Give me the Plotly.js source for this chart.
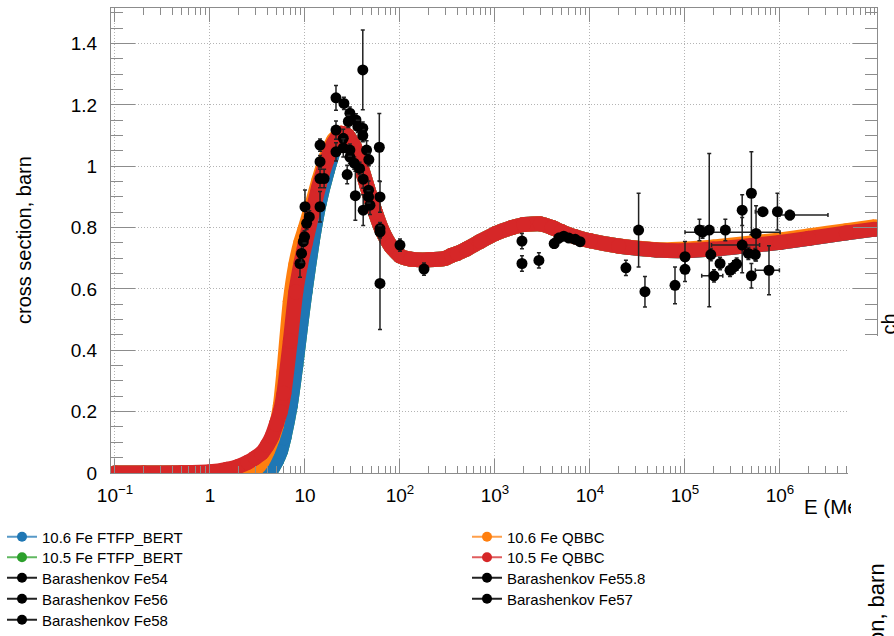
<!DOCTYPE html>
<html><head><meta charset="utf-8">
<script src="https://cdn.plot.ly/plotly-3.0.1.min.js"></script>
<style>html,body{margin:0;padding:0;background:#fff}#chart{width:894px;height:636px}</style>
</head><body><div id="chart"></div>
<script>
// ---------- model curves (E in MeV, cross section in barn) ----------
const E_model = [0.1, 0.2, 0.5, 1, 1.5, 2, 2.5, 3, 3.5, 4, 4.5, 5, 5.5, 6, 7, 8, 9, 10, 12, 14, 17, 20, 24, 28, 33, 38, 45, 55, 65, 80, 100, 130, 200, 300, 350, 400, 500, 700, 1000, 1500, 2000, 3000, 4000, 5000, 7000, 1e4, 2e4, 5e4, 1e5, 2e5, 5e5, 1e6, 2e6, 5e6, 1e7];
const sig_QBBC_105 = [0, 0, 0.001, 0.004, 0.012, 0.022, 0.035, 0.05, 0.065, 0.09, 0.12, 0.16, 0.2, 0.26, 0.43, 0.59, 0.68, 0.745, 0.85, 0.935, 1.02, 1.075, 1.108, 1.10, 1.065, 1.01, 0.935, 0.85, 0.79, 0.74, 0.708, 0.697, 0.695, 0.70, 0.71, 0.716, 0.73, 0.755, 0.78, 0.80, 0.81, 0.812, 0.80, 0.787, 0.77, 0.757, 0.74, 0.727, 0.725, 0.73, 0.742, 0.752, 0.765, 0.783, 0.795];
const sig_QBBC_106 = [0, 0, 0, 0.001, 0.002, 0.003, 0.004, 0.012, 0.035, 0.07, 0.11, 0.155, 0.22, 0.33, 0.56, 0.68, 0.75, 0.795, 0.88, 0.955, 1.035, 1.085, 1.108, 1.10, 1.065, 1.01, 0.935, 0.85, 0.79, 0.74, 0.708, 0.697, 0.695, 0.70, 0.71, 0.716, 0.73, 0.755, 0.78, 0.80, 0.81, 0.812, 0.80, 0.787, 0.77, 0.757, 0.74, 0.728, 0.73, 0.737, 0.75, 0.76, 0.773, 0.79, 0.803];
const sig_FTFP_106 = [0, 0, 0, 0, 0, 0, 0, 0, 0.001, 0.005, 0.015, 0.04, 0.07, 0.115, 0.22, 0.35, 0.48, 0.59, 0.76, 0.875, 0.98, 1.05, 1.095, 1.10, 1.065, 1.01, 0.935, 0.85, 0.79, 0.74, 0.708, 0.697, 0.695, 0.70, 0.71, 0.716, 0.73, 0.755, 0.78, 0.80, 0.81, 0.812, 0.80, 0.787, 0.77, 0.757, 0.74, 0.727, 0.725, 0.73, 0.742, 0.752, 0.765, 0.783, 0.795];
const sig_FTFP_105 = [0, 0, 0, 0, 0, 0, 0, 0, 0.001, 0.005, 0.015, 0.04, 0.07, 0.115, 0.22, 0.35, 0.48, 0.59, 0.76, 0.875, 0.98, 1.05, 1.095, 1.10, 1.065, 1.01, 0.935, 0.85, 0.79, 0.74, 0.708, 0.697, 0.695, 0.70, 0.71, 0.716, 0.73, 0.755, 0.78, 0.80, 0.81, 0.812, 0.80, 0.787, 0.77, 0.757, 0.74, 0.727, 0.725, 0.73, 0.742, 0.752, 0.765, 0.783, 0.795];

// ---------- Barashenkov data ----------
const E_Fe54   = [8.86, 10.0, 14.4, 21.2, 40.6, 60.6, 61.6];
const sig_Fe54 = [0.683, 0.868, 0.868, 1.223, 1.314, 1.062, 0.618];
const err_Fe54 = [0.045, 0.055, 0.05, 0.04, 0.13, 0.11, 0.15];

const E_Fe56   = [9.2, 9.6, 10.4, 11.1, 14.4, 15.9, 21.2, 25.7, 29.7, 34.4, 40.6, 44.5, 48.3, 61.6, 100, 179];
const sig_Fe56 = [0.716, 0.754, 0.814, 0.835, 0.96, 0.96, 1.118, 1.205, 1.173, 1.151, 1.124, 1.053, 0.873, 0.797, 0.743, 0.665];
const err_Fe56 = [0.03, 0.03, 0.02, 0.02, 0.03, 0.03, 0.03, 0.02, 0.02, 0.02, 0.02, 0.03, 0.03, 0.02, 0.02, 0.02];

const E_Fe57   = [14.4, 25.3, 28.6, 33.9, 41.0, 46.7, 61.6];
const sig_Fe57 = [1.015, 1.091, 1.146, 0.904, 0.958, 0.922, 0.90];
const err_Fe57 = [0.02, 0.03, 0.02, 0.08, 0.03, 0.03, 0.05];

const E_Fe58   = [14.4, 21.2, 25.3, 27.8, 29.7, 33.0, 37.5, 41.0, 47.0, 46.7, 61.6];
const sig_Fe58 = [1.069, 1.047, 1.06, 0.973, 1.03, 1.01, 0.993, 0.857, 1.022, 0.90, 0.786];
const err_Fe58 = [0.02, 0.03, 0.03, 0.03, 0.02, 0.02, 0.02, 0.05, 0.02, 0.02, 0.02];

const E_Fe558   = [9.9, 29.7, 36, 40.6, 1923, 1923, 2900, 4200, 4700, 5300, 6000, 7000, 7850, 23900, 32500, 37900, 78500, 1.0e5, 1.0e5, 1.42e5, 1.53e5, 1.8e5, 1.87e5, 2.02e5, 2.34e5, 2.66e5, 2.98e5, 3.28e5, 3.5e5, 4.0e5, 4.0e5, 4.65e5, 5.0e5, 5.0e5, 5.5e5, 5.6e5, 6.6e5, 7.66e5, 9.4e5, 1.27e6];
const sig_Fe558 = [0.77, 1.053, 1.13, 1.10, 0.756, 0.683, 0.693, 0.748, 0.766, 0.772, 0.766, 0.762, 0.754, 0.669, 0.792, 0.591, 0.612, 0.705, 0.664, 0.792, 0.785, 0.792, 0.712, 0.643, 0.683, 0.792, 0.661, 0.672, 0.681, 0.857, 0.743, 0.716, 0.912, 0.643, 0.712, 0.781, 0.852, 0.661, 0.852, 0.841];
const err_Fe558 = [0.02, 0.02, 0.02, 0.02, 0.025, 0.025, 0.025, 0.015, 0.015, 0.01, 0.01, 0.01, 0.01, 0.025, 0.12, 0.05, 0.06, 0.05, 0.04, 0.035, 0.02, 0.25, 0.02, 0.02, 0.02, 0.035, 0.02, 0.02, 0.02, 0.05, 0.09, 0.02, 0.135, 0.04, 0.02, 0.09, 0.01, 0.08, 0.06, 0.015];
const xErrPlus_Fe558  = [0, 0, 0, 0, 0, 0, 0, 0, 0, 0, 0, 0, 0, 0, 0, 0, 0, 0, 0, 0, 8.5e5, 0, 0, 0.48e5, 0, 0, 0, 0, 0, 0, 2.1e5, 0, 0, 0, 0, 0, 0.8e5, 2.2e5, 0, 1.93e6];
const xErrMinus_Fe558 = [0, 0, 0, 0, 0, 0, 0, 0, 0, 0, 0, 0, 0, 0, 0, 0, 0, 0, 0, 0, 0.53e5, 0, 0, 0.52e5, 0, 0, 0, 0, 0, 0, 2.1e5, 0, 0, 0, 0, 0, 1.1e5, 2.16e5, 0, 0.27e6];

// ---------- axis ticks ----------
const xTickVals = [0.1, 1, 10, 100, 1e3, 1e4, 1e5, 1e6];
const xTickText = ['10<sup>\u22121</sup>', '1', '10', '10<sup>2</sup>', '10<sup>3</sup>', '10<sup>4</sup>', '10<sup>5</sup>', '10<sup>6</sup>'];

// ---------- legend ----------
const legendNames  = ['10.6 Fe FTFP_BERT', '10.5 Fe FTFP_BERT', 'Barashenkov Fe54', 'Barashenkov Fe56', 'Barashenkov Fe58', '10.6 Fe QBBC', '10.5 Fe QBBC', 'Barashenkov Fe55.8', 'Barashenkov Fe57'];
const legendColors = ['#1f77b4', '#2ca02c', '#000000', '#000000', '#000000', '#ff7f0e', '#d62728', '#000000', '#000000'];
const legendLines  = ['rgba(31,119,180,0.75)', 'rgba(44,160,44,0.75)', '#222', '#222', '#222', 'rgba(255,127,14,0.75)', 'rgba(214,39,40,0.75)', '#222', '#222'];

// ---------- geometry helpers ----------
const W = 894, H = 636, L = 111, R = 877, T = 8, B = 473;
const px2x = p => (p - L) / (R - L);
const py2y = q => (B - q) / (B - T);
const FONT = '"Liberation Sans", Arial, Helvetica, sans-serif';

const traces = [];
function band(y, color) {
  return {x: E_model, y: y, type: 'scatter', mode: 'lines+markers', showlegend: false, hoverinfo: 'skip',
    line: {color: color, width: 15, shape: 'spline', smoothing: 0.5},
    marker: {color: color, size: 15}};
}
traces.push(band(sig_FTFP_105, '#2ca02c'));
traces.push(band(sig_FTFP_106, '#1f77b4'));
traces.push(band(sig_QBBC_106, '#ff7f0e'));
traces.push(band(sig_QBBC_105, '#d62728'));

function dataTrace(E, s, e, xp, xm) {
  const t = {x: E, y: s, type: 'scatter', mode: 'markers', showlegend: false,
    marker: {color: '#000', size: 11},
    error_y: {type: 'data', array: e, visible: true, color: '#222', thickness: 1.5, width: 2}};
  if (xp) t.error_x = {type: 'data', array: xp, arrayminus: xm, visible: true, color: '#222', thickness: 1.5, width: 2};
  return t;
}
traces.push(dataTrace(E_Fe54, sig_Fe54, err_Fe54));
traces.push(dataTrace(E_Fe56, sig_Fe56, err_Fe56));
traces.push(dataTrace(E_Fe57, sig_Fe57, err_Fe57));
traces.push(dataTrace(E_Fe58, sig_Fe58, err_Fe58));
traces.push(dataTrace(E_Fe558, sig_Fe558, err_Fe558, xErrPlus_Fe558, xErrMinus_Fe558));

// legend entries: two columns, each row its own legend box
const legendCol = [2, 2, 2, 2, 2, 467, 467, 467, 467];
const legendRow = [537, 557.5, 578, 599, 620, 537, 557.5, 578, 599];
const layoutLegends = {};
legendNames.forEach((n, i) => {
  const key = i === 0 ? 'legend' : 'legend' + (i + 1);
  traces.push({x: [null], y: [null], type: 'scatter', mode: 'lines+markers', name: n, legend: key,
    line: {color: legendLines[i], width: 2}, marker: {color: legendColors[i], size: 10}});
  layoutLegends[key] = {xref: 'container', yref: 'container', x: legendCol[i] / W, y: 1 - legendRow[i] / H,
    xanchor: 'left', yanchor: 'middle', bgcolor: 'rgba(0,0,0,0)', borderwidth: 0,
    font: {family: FONT, size: 15, color: '#000'}};
});

const axCol = '#8c8c8c';
const gridStyle = {showgrid: true, gridcolor: '#b4b4b4', griddash: '1px,2px', gridwidth: 1};
const layout = Object.assign({
  width: W, height: H,
  margin: {l: L, r: W - R, t: T, b: H - B, autoexpand: false},
  paper_bgcolor: '#fff', plot_bgcolor: '#fff',
  font: {family: FONT, color: '#000'},
  showlegend: true,
  xaxis: Object.assign({type: 'log', range: [Math.log10(0.0908), Math.log10(1.05e7)], tickmode: 'array', tickvals: xTickVals, ticktext: xTickText,
    ticks: 'inside', ticklen: 14, tickcolor: axCol, tickwidth: 1, showline: true, linecolor: axCol, linewidth: 1, mirror: 'allticks',
    zeroline: false, automargin: false,
    tickfont: {family: FONT, size: 19, color: '#000'}, ticklabelstandoff: 5,
    minor: {ticks: 'inside', ticklen: 7, dtick: 'D1', tickcolor: axCol, showgrid: false}}, gridStyle),
  yaxis: Object.assign({range: [0, 1.516], dtick: 0.2, tick0: 0, automargin: false,
    ticks: 'inside', ticklen: 24, tickcolor: axCol, tickwidth: 1, showline: true, linecolor: axCol, linewidth: 1, mirror: 'allticks',
    zeroline: false,
    tickfont: {family: FONT, size: 19, color: '#000'}, ticklabelstandoff: 9,
    minor: {ticks: 'inside', ticklen: 12, dtick: 0.05, tickcolor: axCol, showgrid: false}}, gridStyle),
  shapes: [{type: 'rect', xref: 'paper', yref: 'paper', x0: px2x(848), x1: px2x(900), y0: py2y(640), y1: py2y(336),
    fillcolor: '#fff', line: {width: 0}, layer: 'above'}],
  annotations: [
    {xref: 'paper', yref: 'paper', x: px2x(24), y: py2y(240), xanchor: 'center', yanchor: 'middle', showarrow: false,
      text: 'cross section, barn', textangle: -90, font: {family: FONT, size: 20, color: '#000'}},
    {xref: 'paper', yref: 'paper', x: px2x(802), y: py2y(506), xanchor: 'left', yanchor: 'middle', showarrow: false,
      text: 'E (MeV)', width: 47, align: 'left', font: {family: FONT, size: 20.5, color: '#000'}},
    {xref: 'paper', yref: 'paper', x: px2x(876), y: py2y(656), xanchor: 'center', yanchor: 'middle', showarrow: false,
      text: 'cross section, barn', textangle: -90, font: {family: FONT, size: 22, color: '#000'}},
    {xref: 'paper', yref: 'paper', x: px2x(888.5), y: py2y(324), xanchor: 'center', yanchor: 'middle', showarrow: false,
      text: 'ch', textangle: -90, font: {family: FONT, size: 20, color: '#000'}}
  ]
}, layoutLegends);

Plotly.newPlot('chart', traces, layout, {staticPlot: true, displayModeBar: false});
</script></body></html>
